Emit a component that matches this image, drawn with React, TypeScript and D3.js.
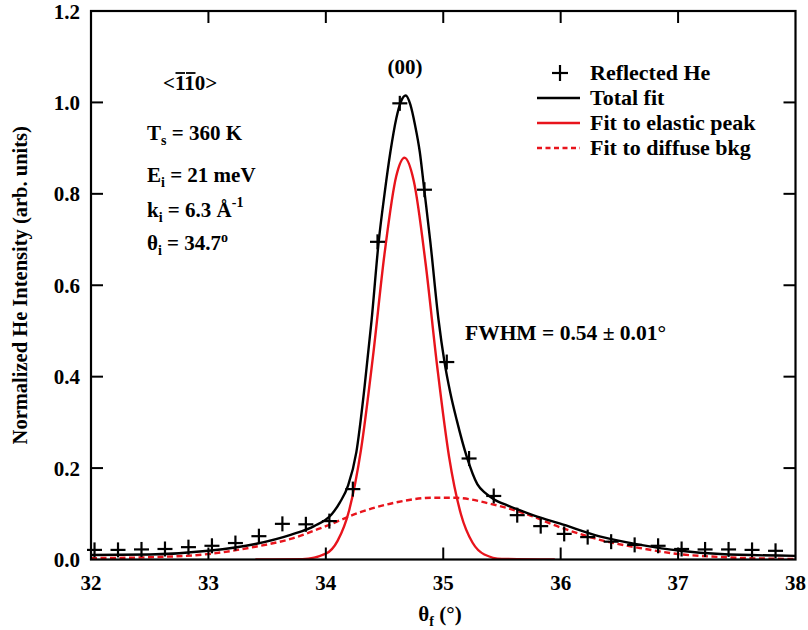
import React from 'react';
import * as d3 from 'd3';

// Measured He reflectivity (crosses)
const dataX = [32.03, 32.23, 32.43, 32.63, 32.83, 33.03, 33.23, 33.43, 33.63, 33.83, 34.03, 34.23, 34.44, 34.63, 34.84, 35.03, 35.22, 35.43, 35.63, 35.83, 36.03, 36.23, 36.43, 36.63, 36.83, 37.03, 37.23, 37.43, 37.63, 37.83];
const dataY = [0.021, 0.021, 0.022, 0.023, 0.027, 0.030, 0.036, 0.051, 0.078, 0.077, 0.084, 0.154, 0.695, 0.998, 0.809, 0.432, 0.221, 0.139, 0.097, 0.073, 0.056, 0.049, 0.039, 0.032, 0.030, 0.023, 0.022, 0.022, 0.021, 0.019];

// Total fit (black line)
const totalX = [32.0, 32.5, 33.0, 33.4, 33.7, 33.9, 34.05, 34.12, 34.19, 34.26, 34.33, 34.39, 34.45, 34.5, 34.55, 34.6, 34.64, 34.68, 34.72, 34.76, 34.8, 34.84, 34.89, 34.96, 35.01, 35.06, 35.115, 35.2, 35.29, 35.36, 35.43, 35.55, 35.65, 35.8, 35.99, 36.34, 36.68, 37.02, 37.36, 38.0];
const totalY = [0.010, 0.011, 0.019, 0.034, 0.054, 0.073, 0.099, 0.125, 0.162, 0.235, 0.378, 0.524, 0.695, 0.800, 0.892, 0.965, 1.002, 1.015, 0.995, 0.950, 0.892, 0.805, 0.695, 0.524, 0.433, 0.365, 0.305, 0.225, 0.165, 0.145, 0.132, 0.118, 0.108, 0.094, 0.079, 0.050, 0.032, 0.019, 0.012, 0.008];

// Fit to elastic peak (red solid)
const elasticX = [33.4, 33.8, 34.0, 34.1, 34.2, 34.3, 34.4, 34.5, 34.6, 34.67, 34.75, 34.85, 34.95, 35.05, 35.15, 35.25, 35.35, 35.5, 35.95];
const elasticY = [0.0, 0.0007, 0.0127, 0.0408, 0.109, 0.241, 0.441, 0.669, 0.839, 0.879, 0.827, 0.647, 0.419, 0.224, 0.0996, 0.0366, 0.011, 0.0013, 0.0];

// Fit to diffuse background (red dashed)
const diffuseX = [32.0, 32.5, 33.0, 33.4, 33.7, 34.0, 34.3, 34.6, 34.9, 35.1, 35.4, 35.7, 36.0, 36.35, 36.7, 37.0, 37.4, 38.0];
const diffuseY = [0.003, 0.005, 0.012, 0.028, 0.045, 0.073, 0.104, 0.125, 0.135, 0.135, 0.122, 0.100, 0.070, 0.042, 0.024, 0.012, 0.005, 0.001];

const xTicks = [32, 33, 34, 35, 36, 37, 38];
const yTicks = [0, 0.2, 0.4, 0.6, 0.8, 1.0, 1.2];

const legendLabels = ['Reflected He', 'Total fit', 'Fit to elastic peak', 'Fit to diffuse bkg'];

const W = 808;
const H = 630;
const L = 91, R = 795.5, T = 11, B = 559.5;
const FONT = '"Liberation Serif", "Times New Roman", Times, serif';
const RED = '#e8141c';

export default function App() {
  const x = d3.scaleLinear().domain([32, 38]).range([L, R]);
  const y = d3.scaleLinear().domain([0, 1.2]).range([B, T]);
  const line = d3
    .line<[number, number]>()
    .x((d) => x(d[0]))
    .y((d) => y(d[1]))
    .curve(d3.curveMonotoneX);

  const zip = (a: number[], b: number[]) => a.map((v, i) => [v, b[i]] as [number, number]);
  const totalPath = line(zip(totalX, totalY)) || '';
  const elasticPath = line(zip(elasticX, elasticY)) || '';
  const diffusePath = line(zip(diffuseX, diffuseY)) || '';

  const tick = 12;
  const fs = 21;

  const cross = (cx: number, cy: number, s: number, key: string) => (
    <g key={key} stroke="#000" strokeWidth={2.2}>
      <line x1={cx - s} x2={cx + s} y1={cy} y2={cy} />
      <line x1={cx} x2={cx} y1={cy - s} y2={cy + s} />
    </g>
  );

  const legY = [73, 98, 123, 148];

  return (
    <svg
      width={W}
      height={H}
      style={{ position: 'absolute', left: 0, top: 0, background: '#fff' }}
      fontFamily={FONT}
      fontWeight="bold"
    >
      <rect x={0} y={0} width={W} height={H} fill="#fff" />
      <defs>
        <clipPath id="plotclip">
          <rect x={L} y={T} width={R - L} height={B - T} />
        </clipPath>
      </defs>

      {/* curves */}
      <g clipPath="url(#plotclip)" fill="none">
        <path d={diffusePath} stroke={RED} strokeWidth={2.4} strokeDasharray="6,3.5" />
        <path d={elasticPath} stroke={RED} strokeWidth={2.4} />
        <path d={totalPath} stroke="#000" strokeWidth={2.4} />
      </g>

      {/* data crosses */}
      {dataX.map((v, i) => cross(x(v), y(dataY[i]), 7.5, 'p' + i))}

      {/* frame */}
      <rect x={L} y={T} width={R - L} height={B - T} fill="none" stroke="#000" strokeWidth={2.2} />

      {/* x ticks */}
      {xTicks.slice(1, -1).map((t) => (
        <g key={'xt' + t} stroke="#000" strokeWidth={2}>
          <line x1={x(t)} x2={x(t)} y1={B} y2={B - tick} />
          <line x1={x(t)} x2={x(t)} y1={T} y2={T + tick} />
        </g>
      ))}
      {xTicks.map((t) => (
        <text key={'xl' + t} x={x(t)} y={590} fontSize={fs} textAnchor="middle" fill="#000">
          {t}
        </text>
      ))}

      {/* y ticks */}
      {yTicks.slice(1, -1).map((t) => (
        <g key={'yt' + t} stroke="#000" strokeWidth={2}>
          <line x1={L} x2={L + tick} y1={y(t)} y2={y(t)} />
          <line x1={R} x2={R - tick} y1={y(t)} y2={y(t)} />
        </g>
      ))}
      {yTicks.map((t) => (
        <text key={'yl' + t} x={80} y={y(t)} dy="0.36em" fontSize={fs} textAnchor="end" fill="#000">
          {t.toFixed(1)}
        </text>
      ))}

      {/* axis titles */}
      <text x={440} y={621} fontSize={fs} textAnchor="middle" fill="#000">
        θ<tspan fontSize={14} dy={5}>f</tspan>
        <tspan dy={-5}> (°)</tspan>
      </text>
      <text
        transform={`translate(27,${(T + B) / 2}) rotate(-90)`}
        fontSize={20.5}
        textAnchor="middle"
        fill="#000"
      >
        Normalized He Intensity (arb. units)
      </text>

      {/* annotations */}
      <text x={163} y={90} fontSize={fs} fill="#000">
        {'<110>'}
      </text>
      <g stroke="#000" strokeWidth={1.8}>
        <line x1={175.5} x2={185} y1={73} y2={73} />
        <line x1={186} x2={195.5} y1={73} y2={73} />
      </g>
      <text x={405} y={74} fontSize={fs} textAnchor="middle" fill="#000">
        (00)
      </text>
      <text x={147} y={140} fontSize={fs} fill="#000">
        T<tspan fontSize={14} dy={5}>s</tspan>
        <tspan dy={-5}> = 360 K</tspan>
      </text>
      <text x={147} y={182} fontSize={fs} fill="#000">
        E<tspan fontSize={14} dy={5}>i</tspan>
        <tspan dy={-5}> = 21 meV</tspan>
      </text>
      <text x={147} y={217} fontSize={fs} fill="#000">
        k<tspan fontSize={14} dy={5}>i</tspan>
        <tspan dy={-5}> = 6.3 Å</tspan>
        <tspan fontSize={14} dy={-10}>-1</tspan>
      </text>
      <text x={147} y={250} fontSize={fs} fill="#000">
        θ<tspan fontSize={14} dy={5}>i</tspan>
        <tspan dy={-5}> = 34.7</tspan>
        <tspan fontSize={14} dy={-8}>o</tspan>
      </text>
      <text x={465} y={340} fontSize={21.5} fill="#000">
        FWHM = 0.54 ± 0.01°
      </text>

      {/* legend */}
      {cross(560, legY[0], 8, 'legc')}
      <line x1={537} x2={580} y1={legY[1]} y2={legY[1]} stroke="#000" strokeWidth={2.4} />
      <line x1={537} x2={580} y1={legY[2]} y2={legY[2]} stroke={RED} strokeWidth={2.4} />
      <line x1={537} x2={580} y1={legY[3]} y2={legY[3]} stroke={RED} strokeWidth={2.4} strokeDasharray="5,3.5" />
      {legendLabels.map((lab, i) => (
        <text key={'lg' + i} x={590} y={legY[i]} dy="0.33em" fontSize={22} fill="#000">
          {lab}
        </text>
      ))}
    </svg>
  );
}
